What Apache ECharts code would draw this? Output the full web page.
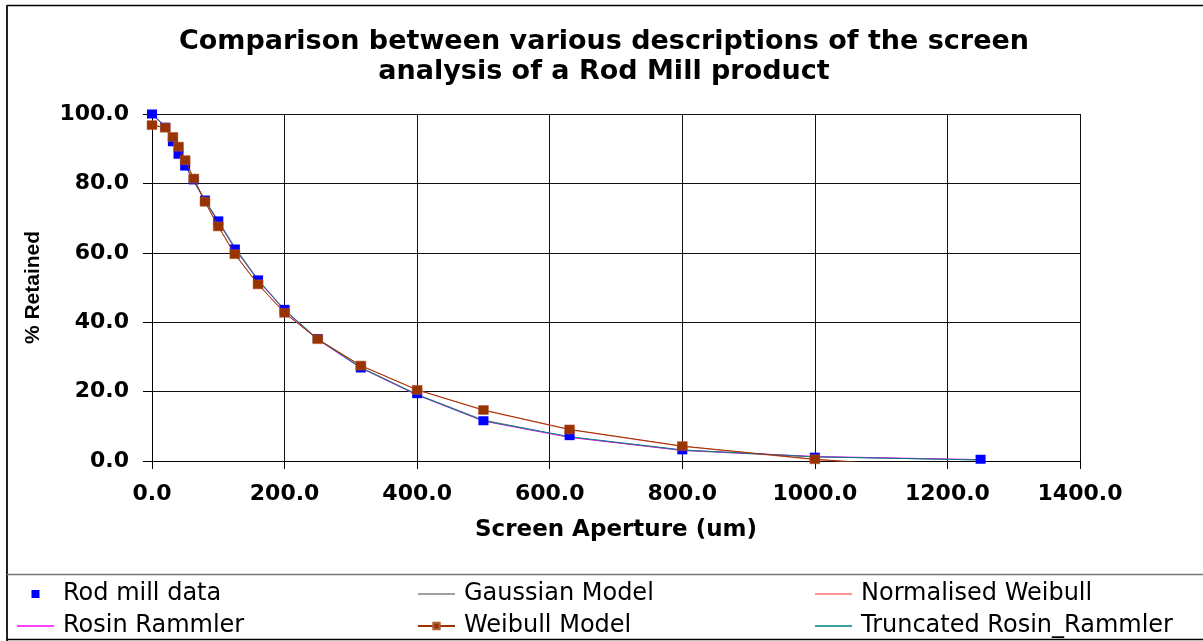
<!DOCTYPE html>
<html><head><meta charset="utf-8">
<script src="https://cdn.jsdelivr.net/npm/echarts@6/dist/echarts.min.js"></script>
<style>html,body{margin:0;padding:0;background:#fff}#c{width:1203px;height:641px}</style>
</head><body><div id="c"></div>
<script>
// Screen apertures (um)
const apertures = [0, 20, 31.5, 40, 50, 63, 80, 100, 125, 160, 200, 250, 315, 400, 500, 630, 800, 1000, 1250];
// % retained
const rodMillData        = [100, 96.2, 92.0, 88.4, 85.0, 81.0, 75.2, 69.2, 61.1, 52.2, 43.7, 35.3, 26.8, 19.4, 11.6, 7.3, 3.2, 1.1, 0.5];
const gaussianModel      = [100, 96.5, 92.5, 89.0, 85.5, 80.8, 75.3, 69.3, 61.6, 52.3, 43.6, 35.2, 27.0, 19.2, 11.8, 6.9, 3.0, 1.2, 0.3];
const normalisedWeibull  = [96.9, 96.1, 93.3, 90.5, 86.6, 81.3, 74.6, 67.6, 59.6, 50.9, 42.8, 35.1, 27.5, 20.5, 14.6, 9.0, 4.2, 0.4, -2.8];
const rosinRammler       = [100, 96.4, 92.3, 88.8, 85.2, 80.7, 75.1, 69.0, 61.2, 52.0, 43.4, 35.0, 26.8, 19.0, 11.5, 6.8, 3.1, 1.3, 0.4];
const weibullModel       = [96.8, 96.05, 93.4, 90.6, 86.7, 81.4, 74.7, 67.6, 59.6, 50.9, 42.7, 35.1, 27.5, 20.5, 14.7, 9.1, 4.3, 0.5, -2.7];
const truncatedRosinRammler = [100, 96.3, 92.2, 88.7, 85.1, 80.6, 75.0, 68.9, 61.3, 52.1, 43.5, 35.1, 26.9, 19.1, 11.6, 7.0, 3.2, 1.2, 0.3];

const pairs = arr => apertures.map((x, i) => [x, arr[i]]);

const chart = echarts.init(document.getElementById('c'));
const legendText = {fontFamily: 'DejaVu Sans', fontSize: 24, lineHeight: 24, color: '#000', padding: [0, 0, 0, 4]};
const legendBase = {orient: 'vertical', top: 582, padding: 0, itemWidth: 37, itemHeight: 8, itemGap: 8,
  textStyle: legendText, selectedMode: false, symbolKeepAspect: true};
const lineIcon = 'path://M0,0L40,0L40,1.8L0,1.8Z';
const squareIcon = 'path://M0,0L1,0L1,1L0,1Z';
const modelLine = (name, color, arr, z) => ({
  name, type: 'line', data: pairs(arr), symbol: 'none', z,
  lineStyle: {color, width: 1}, itemStyle: {color}, animation: false
});

chart.setOption({
  animation: false,
  backgroundColor: '#fff',
  title: {
    text: 'Comparison between various descriptions of the screen\nanalysis of a Rod Mill product',
    left: 604, top: 27, padding: 0, textAlign: 'center',
    textStyle: {fontFamily: 'DejaVu Sans', fontWeight: 'bold', fontSize: 27, lineHeight: 30, color: '#000'}
  },
  grid: {left: 152, right: 123, top: 114, bottom: 180},
  xAxis: {
    type: 'value', min: 0, max: 1400, interval: 200,
    name: 'Screen Aperture (um)', nameLocation: 'middle', nameGap: 58,
    nameTextStyle: {fontFamily: 'DejaVu Sans', fontWeight: 'bold', fontSize: 23, color: '#000'},
    axisLine: {show: true, lineStyle: {color: '#000', width: 1}},
    axisTick: {show: true, length: 8, lineStyle: {color: '#000'}},
    axisLabel: {formatter: v => v.toFixed(1), fontFamily: 'DejaVu Sans', fontWeight: 'bold', fontSize: 22, color: '#000', margin: 22},
    splitLine: {show: true, lineStyle: {color: '#111', width: 1}}
  },
  yAxis: {
    type: 'value', min: 0, max: 100, interval: 20,
    name: '% Retained', nameLocation: 'middle', nameGap: 108, nameRotate: 90,
    nameTextStyle: {fontFamily: 'Liberation Sans', fontWeight: 'bold', fontSize: 21, color: '#000'},
    axisLine: {show: true, lineStyle: {color: '#000', width: 1}},
    axisTick: {show: true, length: 9, lineStyle: {color: '#000'}},
    axisLabel: {formatter: v => v.toFixed(1), fontFamily: 'DejaVu Sans', fontWeight: 'bold', fontSize: 22, color: '#000', margin: 23},
    splitLine: {show: true, lineStyle: {color: '#111', width: 1}}
  },
  legend: [
    Object.assign({left: 17, data: [{name: 'Rod mill data', icon: squareIcon}, {name: 'Rosin Rammler', icon: lineIcon}]}, legendBase),
    Object.assign({left: 417, data: [{name: 'Gaussian Model', icon: lineIcon}, 'Weibull Model']}, legendBase),
    Object.assign({left: 815, data: [{name: 'Normalised Weibull', icon: lineIcon}, {name: 'Truncated Rosin_Rammler', icon: lineIcon}]}, legendBase)
  ],
  graphic: [
    {type: 'line', silent: true, shape: {x1: 7, y1: 5.5, x2: 1210, y2: 5.5}, style: {stroke: '#000', lineWidth: 1.5}},
    {type: 'line', silent: true, shape: {x1: 7, y1: 5, x2: 7, y2: 641}, style: {stroke: '#222', lineWidth: 2}},
    {type: 'line', silent: true, shape: {x1: 7, y1: 574.5, x2: 1210, y2: 574.5}, style: {stroke: '#777', lineWidth: 1.5}},
    {type: 'line', silent: true, shape: {x1: 7, y1: 639.5, x2: 1210, y2: 639.5}, style: {stroke: '#000', lineWidth: 1.5}}
  ],
  series: [
    modelLine('Normalised Weibull', '#ff7070', normalisedWeibull, 2),
    modelLine('Gaussian Model', '#808080', gaussianModel, 3),
    modelLine('Rosin Rammler', '#ff00ff', rosinRammler, 3),
    modelLine('Truncated Rosin_Rammler', '#008080', truncatedRosinRammler, 4),
    {
      name: 'Rod mill data', type: 'scatter', data: pairs(rodMillData), symbol: 'rect', symbolSize: [10, 9], z: 5,
      itemStyle: {color: '#0000ff', opacity: 1}
    },
    {
      name: 'Weibull Model', type: 'line', data: pairs(weibullModel), symbol: 'rect', symbolSize: [10, 9], showSymbol: true, z: 6,
      lineStyle: {color: '#993300', width: 1}, itemStyle: {color: '#993300', borderColor: '#b0603a', borderWidth: 0.5}
    }
  ]
});
</script>
</body></html>
